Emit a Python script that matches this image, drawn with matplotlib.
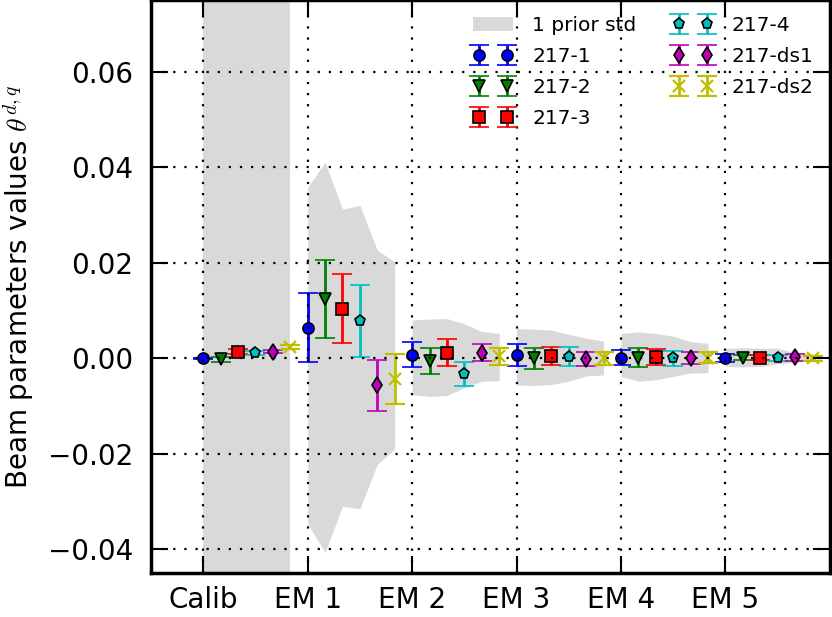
import numpy as np
import matplotlib
matplotlib.use('Agg')
import matplotlib.pyplot as plt

# groups along x, one offset per detector inside a group
groups = ['Calib', 'EM 1', 'EM 2', 'EM 3', 'EM 4', 'EM 5']
detectors = ['217-1', '217-2', '217-3', '217-4', '217-ds1', '217-ds2']
colors = ['b', 'g', 'r', 'c', 'm', 'y']
markers = ['o', 'v', 's', 'p', 'd', 'x']

# best fit values, one row per group, one column per detector
values = [
    [0.0000, -0.0002, 0.0014, 0.0011, 0.0014, 0.0023],
    [0.0064, 0.0124, 0.0104, 0.0078, -0.0057, -0.0043],
    [0.0007, -0.0006, 0.0012, -0.0033, 0.0012, 0.0004],
    [0.0007, 0.0000, 0.0005, 0.0003, -0.0002, 0.0000],
    [0.0001, 0.0001, 0.0002, 0.0000, 0.0001, 0.0001],
    [0.0001, 0.0001, 0.0001, 0.0001, 0.0002, 0.0000],
]
errors = [
    [0.0001, 0.0005, 0.0006, 0.0004, 0.0004, 0.0004],
    [0.0072, 0.0081, 0.0072, 0.0075, 0.0054, 0.0052],
    [0.0026, 0.0027, 0.0028, 0.0026, 0.0017, 0.0018],
    [0.0023, 0.0022, 0.0019, 0.0020, 0.0015, 0.0014],
    [0.0016, 0.0020, 0.0017, 0.0016, 0.0013, 0.0012],
    [0.0008, 0.0005, 0.0005, 0.0006, 0.0007, 0.0005],
]

# 1 sigma prior band (upper and lower edge per point)
prior_hi = [
    [1.0, 1.0, 1.0, 1.0, 1.0, 1.0],
    [0.0358, 0.0410, 0.0312, 0.0320, 0.0226, 0.0202],
    [0.0080, 0.0082, 0.0083, 0.0072, 0.0056, 0.0052],
    [0.0062, 0.0061, 0.0059, 0.0050, 0.0042, 0.0036],
    [0.0052, 0.0055, 0.0052, 0.0046, 0.0035, 0.0031],
    [0.0021, 0.0022, 0.0021, 0.0021, 0.0012, 0.0010],
]
prior_lo = [
    [-1.0, -1.0, -1.0, -1.0, -1.0, -1.0],
    [-0.0347, -0.0406, -0.0310, -0.0315, -0.0222, -0.0190],
    [-0.0076, -0.0080, -0.0078, -0.0062, -0.0048, -0.0047],
    [-0.0056, -0.0057, -0.0055, -0.0048, -0.0037, -0.0035],
    [-0.0038, -0.0048, -0.0045, -0.0038, -0.0031, -0.0030],
    [-0.0017, -0.0018, -0.0017, -0.0012, -0.0008, -0.0005],
]

ytick_vals = [-0.04, -0.02, 0.0, 0.02, 0.04, 0.06]

plt.rcParams['mathtext.fontset'] = 'cm'

fig = plt.figure(figsize=(8.32, 6.17), dpi=100)
ax = fig.add_axes([0.1815, 0.071, 0.816, 0.929])

n = len(detectors)
offsets = np.arange(n) / n

for g in range(len(groups)):
    xs = g + offsets
    ax.fill_between(xs, prior_lo[g], prior_hi[g], color='0.85', lw=0,
                    label='1 prior std' if g == 0 else None, zorder=1)

for d in range(n):
    xs = np.arange(len(groups)) + offsets[d]
    ys = [values[g][d] for g in range(len(groups))]
    es = [errors[g][d] for g in range(len(groups))]
    mew = 1.6 if markers[d] == 'x' else 1.2
    mec = colors[d] if markers[d] == 'x' else 'k'
    ax.errorbar(xs, ys, yerr=es, fmt=markers[d], color=colors[d], mec=mec,
                mew=mew, ms=8, elinewidth=2, capsize=7, capthick=2,
                label=detectors[d], zorder=2)

ax.set_xlim(-0.5, 6)
ax.set_ylim(-0.045, 0.075)
ax.set_xticks(range(len(groups)))
ax.set_xticklabels(groups)
ax.set_yticks(ytick_vals)
ax.set_yticklabels([f'{v:.2f}'.replace('-', '\u2212') for v in ytick_vals])
ax.tick_params(direction='in', length=12, width=1.5, labelsize=20,
               top=True, right=True)
ax.tick_params(axis='y', pad=13)
ax.tick_params(axis='x', pad=9)
for sp in ax.spines.values():
    sp.set_linewidth(2.5)
ax.set_axisbelow(False)
ax.grid(True, color='k', linestyle=(0, (1, 4)), linewidth=1.6)
ax.set_ylabel(r'Beam parameters values $\theta^{d,q}$', fontsize=20, labelpad=8)

ax.legend(loc='upper right', ncol=2, numpoints=2, frameon=False, fontsize=14.5,
          handlelength=2.0, handletextpad=0.95, columnspacing=1.8,
          labelspacing=0.6, borderaxespad=0.4)

fig.savefig('out.png', dpi=100)
